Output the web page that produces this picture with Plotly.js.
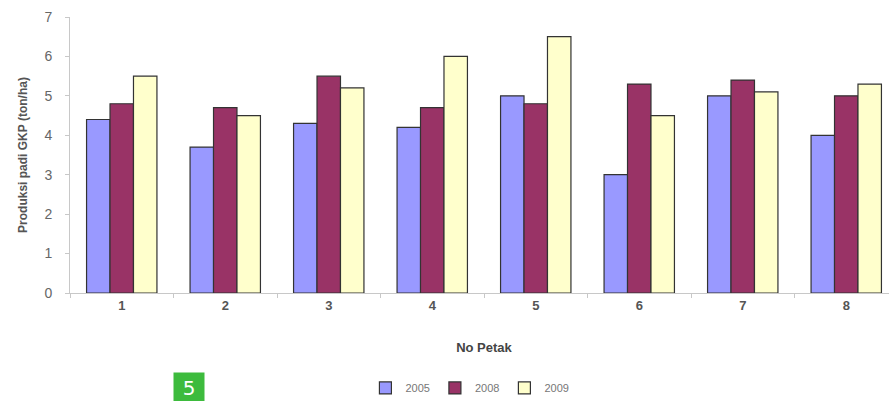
<!DOCTYPE html>
<html>
<head>
<meta charset="utf-8">
<script src="https://cdn.plot.ly/plotly-3.0.1.min.js"></script>
<style>
html,body{margin:0;padding:0;overflow:hidden;background:#fff;}
#chart{width:900px;height:401px;}
</style>
</head>
<body>
<div id="chart"></div>
<script>
const categories = ["1","2","3","4","5","6","7","8"];
const seriesNames = ["2005","2008","2009"];
const values2005 = [4.4, 3.7, 4.3, 4.2, 5.0, 3.0, 5.0, 4.0];
const values2008 = [4.8, 4.7, 5.5, 4.7, 4.8, 5.3, 5.4, 5.0];
const values2009 = [5.5, 4.5, 5.2, 6.0, 6.5, 4.5, 5.1, 5.3];
const yTicks = [0,1,2,3,4,5,6,7];
const colors = ["#9999FF", "#993366", "#FFFFCC"];

const allValues = [values2005, values2008, values2009];
const traces = allValues.map((vals, i) => ({
  type: "bar",
  name: seriesNames[i],
  x: categories,
  y: vals,
  marker: {color: colors[i], line: {color: "#333333", width: 1.2}},
  hoverinfo: "x+y+name"
}));

const layout = {
  width: 900,
  height: 401,
  margin: {l: 70, r: 2, t: 17, b: 108, autoexpand: false},
  paper_bgcolor: "#ffffff",
  plot_bgcolor: "#ffffff",
  barmode: "group",
  bargap: 0.32,
  bargroupgap: 0,
  font: {family: "Liberation Sans, Arial, sans-serif", color: "#555555"},
  showlegend: true,
  legend: {
    orientation: "h",
    x: 0.483, xanchor: "center",
    y: -0.344, yanchor: "middle",
    font: {size: 11, color: "#777777"},
    itemwidth: 30,
    traceorder: "normal",
    tracegroupgap: 0
  },
  xaxis: {
    type: "category",
    automargin: false,
    showline: true, linecolor: "#c8c8c8", linewidth: 1,
    ticks: "outside", tickson: "boundaries", ticklen: 4, tickcolor: "#c8c8c8",
    tickfont: {size: 13, color: "#555555", family: "Liberation Sans, Arial, sans-serif", weight: "bold"},
    showgrid: false, zeroline: false,
    title: {text: "<b>No Petak</b>", font: {size: 13, color: "#444444"}, standoff: 31}
  },
  yaxis: {
    range: [0, 7],
    automargin: false,
    tickvals: yTicks,
    showline: true, linecolor: "#c8c8c8", linewidth: 1,
    ticks: "outside", ticklen: 4, tickcolor: "#c8c8c8",
    ticklabelstandoff: 10,
    tickfont: {size: 14, color: "#666666"},
    showgrid: false, zeroline: false,
    title: {text: "<b>Produksi padi GKP (ton/ha)</b>", font: {size: 12, color: "#555555"}, standoff: 14}
  },
  annotations: [{
    xref: "paper", yref: "paper",
    x: (189 - 70) / 828, y: -(388 - 293) / 276,
    xanchor: "center", yanchor: "middle",
    text: "5", showarrow: false,
    font: {size: 20, color: "#ffffff", family: "DejaVu Sans, sans-serif"},
    bgcolor: "#3DBB3D", width: 30, height: 30, borderpad: 0
  }]
};

Plotly.newPlot("chart", traces, layout, {displayModeBar: false, staticPlot: true});
</script>
</body>
</html>
